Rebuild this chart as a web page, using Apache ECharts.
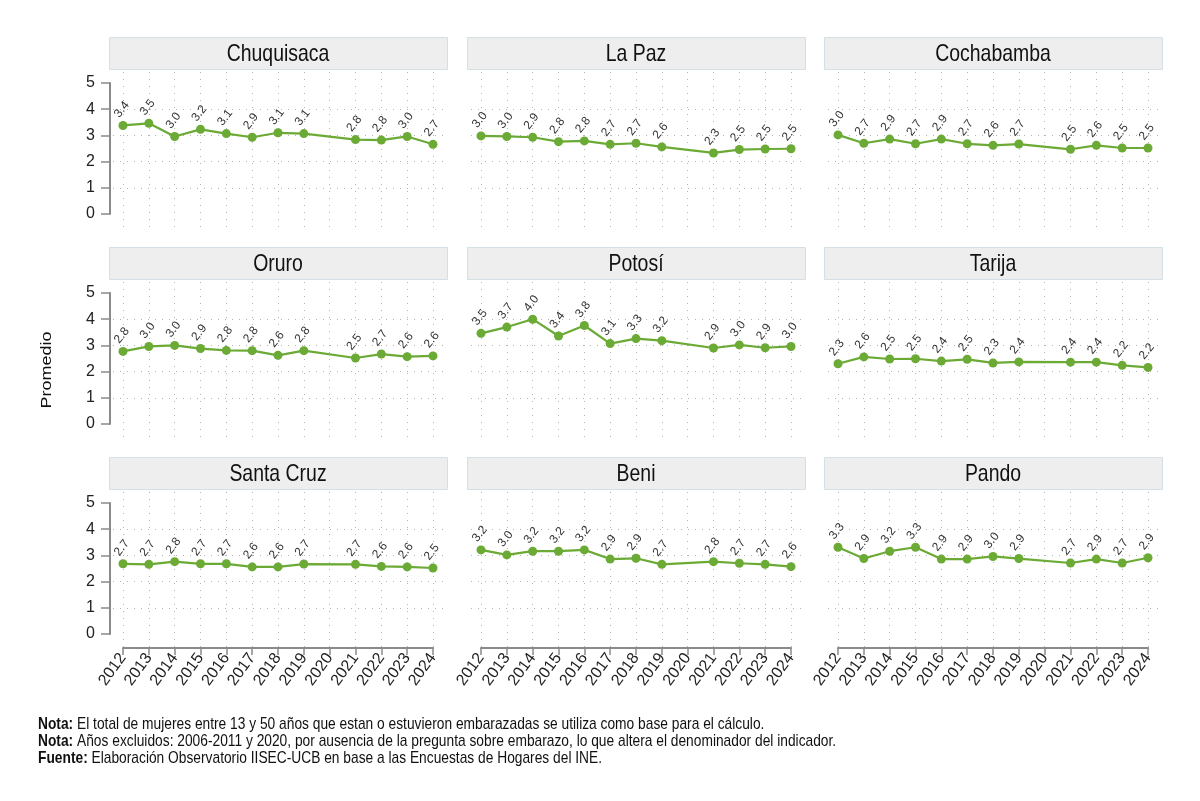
<!DOCTYPE html>
<html>
<head>
<meta charset="utf-8">
<script src="https://cdn.jsdelivr.net/npm/echarts@6/dist/echarts.min.js"></script>
<style>
  html, body { margin: 0; padding: 0; background: #fff; }
  #chart { width: 1200px; height: 801px; }
</style>
</head>
<body>
<div id="chart"></div>
<script>
// departamentos y años (2020 sin dato)
const regions = ["Chuquisaca", "La Paz", "Cochabamba", "Oruro", "Potosí", "Tarija", "Santa Cruz", "Beni", "Pando"];
const years = [2012, 2013, 2014, 2015, 2016, 2017, 2018, 2019, 2021, 2022, 2023, 2024];
const yearTicks = ["2012", "2013", "2014", "2015", "2016", "2017", "2018", "2019", "2020", "2021", "2022", "2023", "2024"];
const yTicks = [0, 1, 2, 3, 4, 5];

const chuquisaca = [3.38, 3.46, 2.96, 3.23, 3.07, 2.93, 3.10, 3.07, 2.84, 2.82, 2.96, 2.66];
const laPaz      = [2.98, 2.96, 2.93, 2.76, 2.79, 2.66, 2.70, 2.56, 2.33, 2.46, 2.48, 2.49];
const cochabamba = [3.02, 2.70, 2.86, 2.68, 2.86, 2.68, 2.62, 2.67, 2.47, 2.62, 2.52, 2.52];
const oruro      = [2.77, 2.96, 3.00, 2.88, 2.81, 2.80, 2.62, 2.80, 2.52, 2.67, 2.57, 2.60];
const potosi     = [3.46, 3.70, 4.00, 3.36, 3.76, 3.07, 3.26, 3.18, 2.90, 3.02, 2.91, 2.96];
const tarija     = [2.30, 2.56, 2.48, 2.49, 2.40, 2.47, 2.33, 2.37, 2.36, 2.36, 2.24, 2.16];
const santaCruz  = [2.68, 2.66, 2.76, 2.68, 2.68, 2.56, 2.56, 2.67, 2.66, 2.58, 2.56, 2.52];
const beni       = [3.21, 3.02, 3.16, 3.16, 3.21, 2.86, 2.89, 2.66, 2.76, 2.70, 2.66, 2.57];
const pando      = [3.31, 2.88, 3.16, 3.31, 2.86, 2.86, 2.96, 2.88, 2.71, 2.86, 2.71, 2.91];
const values = [chuquisaca, laPaz, cochabamba, oruro, potosi, tarija, santaCruz, beni, pando];

const FONT = "'Liberation Sans', Arial, sans-serif";
const GREEN = "#6aaa35";
const AXIS = "#8a8a8a";
const GRIDC = "#b4b4b4";
const SQUISH = 0.81; // el original tiene la letra estrecha

const colLeft = [109, 467, 824];
const rowTop = [37, 247, 457];
const hdrW = 338, hdrH = 32;

const grids = [], xAxes = [], yAxes = [], series = [], graphic = [];

regions.forEach((name, i) => {
  const r = Math.floor(i / 3), c = i % 3;
  const L = colLeft[c], T = rowTop[r];
  const step = (hdrW - 28) / 12;

  // cabecera del panel
  graphic.push({
    type: "rect", left: L, top: T, silent: true,
    shape: { width: hdrW, height: hdrH },
    style: { fill: "#eeeeee", stroke: "#d3e0e6", lineWidth: 1 }
  });
  graphic.push({
    type: "text", x: L + hdrW / 2, y: T + hdrH / 2 + 1, scaleX: SQUISH, silent: true,
    style: { text: name, font: "24px " + FONT, fill: "#111", align: "center", verticalAlign: "middle" }
  });

  // grid de datos (0-5)
  grids.push({ left: L + 4, top: T + 46, width: hdrW - 8, height: 131 });
  xAxes.push({
    gridIndex: 2 * i, type: "value", show: false,
    min: 2012 - 10 / step, max: 2024 + 10 / step
  });
  yAxes.push({
    gridIndex: 2 * i, type: "value", min: yTicks[0], max: yTicks[yTicks.length - 1], interval: 1, offset: 3,
    axisLine: { show: c === 0, lineStyle: { color: AXIS, width: 2 } },
    axisTick: { show: c === 0, length: 9, lineStyle: { color: AXIS, width: 1.5 } },
    axisLabel: { show: c === 0, margin: 15, fontSize: 16, fontFamily: FONT, color: "#222" },
    splitLine: {
      show: true, showMinLine: false, showMaxLine: false,
      lineStyle: { color: GRIDC, type: [1, 6], width: 1 }
    }
  });

  // grid del eje x y líneas verticales
  grids.push({ left: L + 14, top: T + 35, width: hdrW - 28, height: 156 });
  xAxes.push({
    gridIndex: 2 * i + 1, type: "category", data: yearTicks, boundaryGap: false,
    axisLine: { show: r === 2, lineStyle: { color: AXIS, width: 2 } },
    axisTick: { show: r === 2, length: 7, interval: 0, lineStyle: { color: AXIS, width: 1.5 } },
    axisLabel: { show: r === 2, interval: 0, rotate: 54, margin: 7, fontSize: 16, fontFamily: FONT, color: "#222" },
    splitLine: { show: true, interval: 0, lineStyle: { color: GRIDC, type: [1, 6], width: 1 } }
  });
  yAxes.push({ gridIndex: 2 * i + 1, type: "value", show: false });

  series.push({
    type: "line", xAxisIndex: 2 * i, yAxisIndex: 2 * i,
    data: years.map((y, k) => [y, values[i][k]]),
    symbol: "circle", symbolSize: 9,
    itemStyle: { color: GREEN },
    lineStyle: { color: GREEN, width: 2.2 },
    label: {
      show: true, position: "top", distance: 13, rotate: 52,
      align: "center", verticalAlign: "middle", offset: [-2, 0],
      fontSize: 12, fontFamily: FONT, color: "#333",
      formatter: p => p.value[1].toFixed(1)
    },
    silent: true, animation: false
  });
});

// título del eje y
graphic.push({
  type: "text", x: 47, y: 370, rotation: Math.PI / 2, scaleY: 0.85, silent: true,
  style: { text: "Promedio", font: "18px " + FONT, fill: "#111", align: "center", verticalAlign: "middle" }
});

// notas al pie
graphic.push({
  type: "text", x: 38, y: 716, scaleX: SQUISH, silent: true,
  style: {
    text: "{b|Nota:} El total de mujeres entre 13 y 50 años que estan o estuvieron embarazadas se utiliza como base para el cálculo.\n" +
          "{b|Nota:} Años excluidos: 2006-2011 y 2020, por ausencia de la pregunta sobre embarazo, lo que altera el denominador del indicador.\n" +
          "{b|Fuente:} Elaboración Observatorio IISEC-UCB en base a las Encuestas de Hogares del INE.",
    font: "17px " + FONT, fill: "#111", lineHeight: 17,
    rich: { b: { fontWeight: "bold", fontSize: 17, fontFamily: FONT, fill: "#111", lineHeight: 17 } }
  }
});

const myChart = echarts.init(document.getElementById("chart"));
myChart.setOption({
  animation: false,
  grid: grids,
  xAxis: xAxes,
  yAxis: yAxes,
  series: series,
  graphic: graphic
});

window.onresize = function () {
  myChart.resize();
};
</script>
</body>
</html>
